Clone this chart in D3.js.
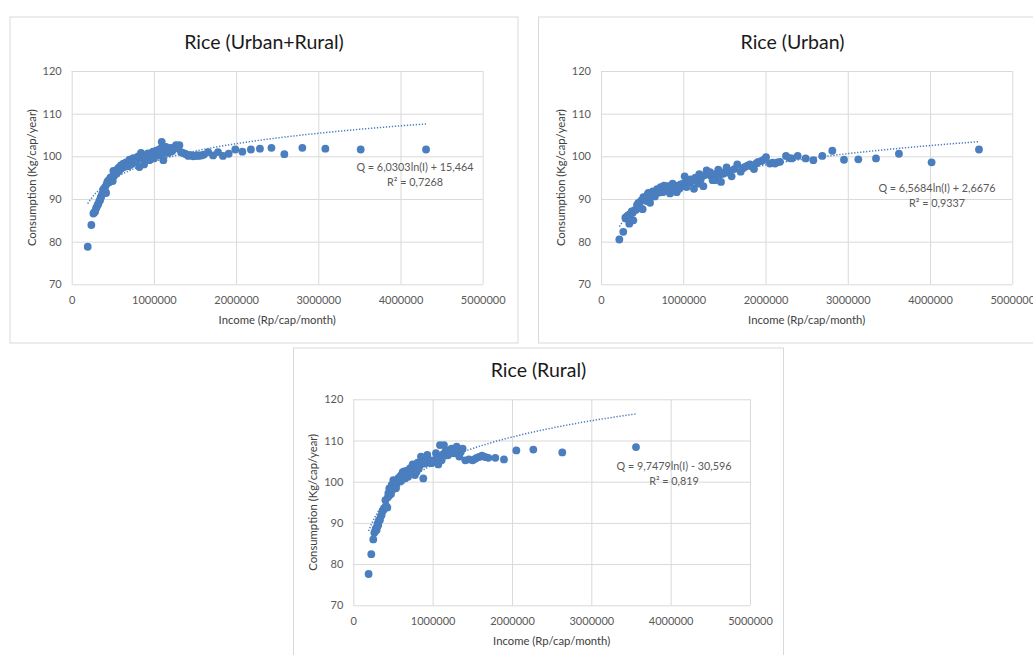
<!DOCTYPE html>
<html>
<head>
<meta charset="utf-8">
<script src="https://cdn.jsdelivr.net/npm/d3@7"></script>
<style>
    body { margin: 0; background: #fff; }
    svg { display: block; font-family: Lato, "Open Sans", sans-serif; }
</style>
</head>
<body>
<svg width="1033" height="655"></svg>
<script>
// axis ticks shared by all three charts
const incomeTicks = [0, 1000000, 2000000, 3000000, 4000000, 5000000];
const consumptionTicks = [70, 80, 90, 100, 110, 120];

// [income Rp/cap/month, consumption Kg/cap/year]
const urbanRuralPoints = [
    [195000, 78.8], [239000, 83.9], [264000, 86.6], [276000, 86.9], [284000, 87.0],
    [296000, 87.8], [304000, 88.1], [316000, 88.6], [324000, 88.9], [336000, 89.5],
    [345000, 89.7], [352000, 90.3], [357000, 90.5], [368000, 91.0], [377000, 91.4],
    [386000, 92.3], [393000, 92.0], [406000, 92.8], [412000, 91.6], [418000, 91.4],
    [425000, 93.5], [434000, 94.0], [445000, 94.3], [456000, 93.9], [466000, 94.8],
    [478000, 95.1], [488000, 94.5], [499000, 94.2], [507000, 96.6], [515000, 95.4],
    [527000, 95.9], [538000, 96.7], [546000, 96.0], [556000, 96.3], [568000, 97.3],
    [578000, 96.6], [588000, 97.1], [598000, 97.9], [607000, 97.2], [616000, 97.8],
    [628000, 98.3], [638000, 97.5], [649000, 98.1], [662000, 98.6], [675000, 97.9],
    [690000, 97.7], [703000, 99.2], [718000, 98.7], [733000, 98.2], [750000, 99.6],
    [764000, 99.4], [778000, 98.6], [791000, 99.1], [808000, 100.0], [823000, 97.5],
    [843000, 100.8], [855000, 99.5], [868000, 100.3], [880000, 98.1], [895000, 99.4],
    [912000, 99.8], [928000, 100.7], [945000, 99.1], [960000, 100.1], [973000, 100.5],
    [988000, 101.1], [1000000, 99.5], [1018000, 100.3], [1034000, 101.4], [1050000, 100.9],
    [1066000, 100.2], [1080000, 101.8], [1095000, 103.4], [1115000, 99.1], [1130000, 100.8],
    [1148000, 102.2], [1162000, 101.7], [1176000, 100.8], [1190000, 101.3], [1204000, 102.0],
    [1220000, 101.2], [1237000, 101.6], [1253000, 102.1], [1269000, 102.6], [1290000, 101.9],
    [1310000, 102.6], [1330000, 101.0], [1350000, 100.8], [1379000, 100.6], [1400000, 100.4],
    [1419000, 100.1], [1440000, 100.3], [1460000, 100.2], [1480000, 100.0], [1500000, 100.1],
    [1520000, 100.3], [1540000, 100.1], [1560000, 100.2], [1580000, 100.2], [1610000, 100.4],
    [1660000, 101.0], [1720000, 100.2], [1780000, 101.0], [1840000, 100.1], [1910000, 100.6],
    [1990000, 101.6], [2076000, 101.1], [2180000, 101.6], [2290000, 101.8], [2430000, 102.0],
    [2587000, 100.5], [2806000, 102.0], [3086000, 101.8], [3516000, 101.6], [4311000, 101.6]
];

const urbanPoints = [
    [223000, 80.5], [271000, 82.3], [296000, 85.6], [304000, 85.4], [318000, 86.0],
    [332000, 86.2], [344000, 84.2], [356000, 86.5], [373000, 87.1], [385000, 86.8],
    [393000, 85.0], [405000, 87.3], [425000, 87.5], [438000, 88.6], [454000, 89.1],
    [462000, 87.9], [474000, 88.1], [488000, 89.6], [506000, 87.6], [515000, 90.4],
    [523000, 90.1], [540000, 89.8], [555000, 89.5], [565000, 91.0], [575000, 91.4],
    [585000, 90.3], [596000, 89.1], [606000, 90.8], [616000, 90.5], [630000, 91.8],
    [644000, 91.3], [655000, 90.6], [668000, 91.6], [682000, 92.3], [697000, 92.2],
    [710000, 91.5], [725000, 92.8], [738000, 92.0], [750000, 91.6], [765000, 93.1],
    [778000, 92.4], [792000, 91.9], [806000, 93.0], [822000, 92.6], [839000, 91.3],
    [855000, 93.2], [871000, 93.6], [885000, 92.3], [900000, 92.8], [920000, 91.6],
    [936000, 93.1], [952000, 92.4], [968000, 93.4], [981000, 93.0], [1000000, 93.6],
    [1017000, 95.3], [1030000, 93.9], [1041000, 92.8], [1058000, 94.1], [1074000, 93.8],
    [1090000, 94.6], [1106000, 94.2], [1130000, 92.4], [1148000, 95.0], [1163000, 94.8],
    [1180000, 93.6], [1195000, 95.8], [1210000, 94.5], [1224000, 95.2], [1244000, 93.0],
    [1265000, 95.6], [1284000, 96.7], [1305000, 96.0], [1325000, 96.3], [1340000, 95.4],
    [1357000, 94.4], [1386000, 94.4], [1405000, 96.0], [1426000, 96.9], [1440000, 95.6],
    [1459000, 94.0], [1487000, 95.9], [1510000, 96.4], [1527000, 97.4], [1545000, 96.2],
    [1560000, 96.6], [1588000, 95.3], [1620000, 97.0], [1657000, 98.1], [1698000, 96.4],
    [1725000, 97.2], [1750000, 97.5], [1780000, 97.8], [1811000, 98.1], [1835000, 97.6],
    [1860000, 97.0], [1890000, 98.4], [1912000, 98.7], [1953000, 98.9], [1980000, 99.2],
    [2006000, 99.8], [2054000, 98.3], [2085000, 98.5], [2115000, 98.3], [2145000, 98.6],
    [2176000, 98.7], [2249000, 100.1], [2290000, 99.6], [2318000, 99.5], [2391000, 100.1],
    [2488000, 99.5], [2581000, 99.1], [2690000, 100.1], [2812000, 101.3], [2954000, 99.2],
    [3128000, 99.3], [3343000, 99.5], [3622000, 100.6], [4019000, 98.6], [4595000, 101.6]
];

const ruralPoints = [
    [193000, 77.6], [227000, 82.4], [252000, 86.0], [265000, 87.6], [273000, 87.9],
    [282000, 88.6], [294000, 88.3], [300000, 89.0], [306000, 89.8], [315000, 89.5],
    [322000, 90.6], [336000, 90.7], [345000, 91.6], [357000, 91.9], [366000, 92.8],
    [378000, 93.1], [388000, 93.6], [399000, 93.7], [405000, 95.5], [418000, 94.0],
    [429000, 93.7], [435000, 96.2], [442000, 97.2], [448000, 96.6], [454000, 98.4],
    [462000, 97.5], [470000, 98.0], [476000, 97.0], [483000, 99.2], [490000, 98.8],
    [496000, 98.1], [504000, 100.4], [512000, 99.5], [520000, 99.8], [530000, 100.2],
    [538000, 98.4], [548000, 99.7], [555000, 100.0], [565000, 100.8], [575000, 100.6],
    [588000, 101.2], [596000, 100.1], [605000, 101.6], [615000, 100.9], [622000, 102.3],
    [632000, 101.6], [642000, 102.5], [651000, 100.8], [660000, 101.5], [670000, 102.6],
    [681000, 102.0], [690000, 101.2], [700000, 102.8], [714000, 103.2], [725000, 102.4],
    [738000, 103.5], [748000, 104.2], [760000, 103.6], [777000, 101.6], [788000, 103.8],
    [798000, 102.4], [810000, 104.6], [825000, 103.2], [840000, 104.0], [853000, 106.1],
    [865000, 104.4], [882000, 100.8], [893000, 104.8], [903000, 104.4], [918000, 105.2],
    [933000, 106.5], [950000, 104.7], [966000, 105.2], [985000, 104.5], [1008000, 105.2],
    [1025000, 104.8], [1042000, 106.9], [1058000, 105.8], [1071000, 104.2], [1092000, 108.9],
    [1102000, 106.2], [1113000, 105.2], [1128000, 106.6], [1143000, 108.9], [1160000, 107.3],
    [1176000, 107.5], [1192000, 106.4], [1210000, 106.9], [1224000, 107.8], [1239000, 108.0],
    [1254000, 107.2], [1269000, 106.9], [1285000, 107.6], [1303000, 108.5], [1320000, 107.4],
    [1336000, 106.1], [1355000, 107.2], [1378000, 108.0], [1412000, 105.2], [1458000, 105.4],
    [1504000, 105.2], [1530000, 105.5], [1555000, 105.8], [1585000, 106.0], [1622000, 106.3],
    [1660000, 106.0], [1702000, 105.8], [1790000, 105.8], [1899000, 105.4], [2055000, 107.6],
    [2269000, 107.8], [2634000, 107.1], [3563000, 108.4]
];

// log trendlines as printed on the charts: Q = a ln(I) + b
const urbanRuralFit = { a: 6.0303, b: 15.464, label: "Q = 6,0303ln(I) + 15,464", r2: "R² = 0,7268" };
const urbanFit = { a: 6.5684, b: 2.6676, label: "Q = 6,5684ln(I) + 2,6676", r2: "R² = 0,9337" };
const ruralFit = { a: 9.7479, b: -30.596, label: "Q = 9,7479ln(I) - 30,596", r2: "R² = 0,819" };

const MARKER = "#4a7ebe";
const GRID = "#d9d9d9";

const svg = d3.select("svg");

function drawPanel(p) {
    const g = svg.append("g");

    g.append("rect")
        .attr("x", p.frame[0]).attr("y", p.frame[1])
        .attr("width", p.frame[2]).attr("height", p.frame[3])
        .attr("fill", "#fff")
        .attr("stroke", GRID)
        .attr("stroke-width", 1);

    g.append("text")
        .attr("x", p.frame[0] + p.frame[2] / 2)
        .attr("y", p.top - 22)
        .attr("text-anchor", "middle")
        .attr("font-size", 19.5)
        .attr("fill", "#1a1a1a")
        .text(p.title);

    const x = d3.scaleLinear().domain([0, 5000000]).range([p.left, p.left + p.w]);
    const y = d3.scaleLinear().domain([70, 120]).range([p.top + p.h, p.top]);

    const xAxis = g.append("g")
        .attr("transform", `translate(0,${p.top + p.h})`)
        .call(d3.axisBottom(x).tickValues(incomeTicks).tickSize(-p.h).tickPadding(12).tickFormat(d3.format("d")));
    const yAxis = g.append("g")
        .attr("transform", `translate(${p.left},0)`)
        .call(d3.axisLeft(y).tickValues(consumptionTicks).tickSize(-p.w).tickPadding(10));

    [xAxis, yAxis].forEach(a => {
        a.select(".domain").remove();
        a.selectAll("line").attr("stroke", GRID);
        a.selectAll("text")
            .attr("fill", "#595959")
            .attr("font-size", 11)
            .attr("font-family", "Lato, sans-serif");
    });

    g.append("text")
        .attr("x", p.left + p.w / 2)
        .attr("y", p.top + p.h + 40)
        .attr("text-anchor", "middle")
        .attr("font-size", 11.3)
        .attr("fill", "#404040")
        .text("Income (Rp/cap/month)");

    g.append("text")
        .attr("transform", `translate(${p.left - 36},${p.top + p.h / 2}) rotate(-90)`)
        .attr("text-anchor", "middle")
        .attr("font-size", 11.3)
        .attr("fill", "#404040")
        .text("Consumption (Kg/cap/year)");

    // trendline, drawn from the smallest to the largest income in the data
    const [xmin, xmax] = d3.extent(p.points, d => d[0]);
    const fitPts = d3.range(0, 121).map(i => {
        const inc = xmin + (xmax - xmin) * i / 120;
        return [inc, p.fit.a * Math.log(inc) + p.fit.b];
    });

    g.append("g").selectAll("circle")
        .data(p.points)
        .enter().append("circle")
        .attr("cx", d => x(d[0]))
        .attr("cy", d => y(d[1]))
        .attr("r", 3.9)
        .attr("fill", MARKER);

    g.append("path")
        .datum(fitPts)
        .attr("d", d3.line().x(d => x(d[0])).y(d => y(d[1])))
        .attr("fill", "none")
        .attr("stroke", MARKER)
        .attr("stroke-width", 1.5)
        .attr("stroke-dasharray", "1.3 1.7");

    const eq = g.append("text")
        .attr("text-anchor", "middle")
        .attr("font-size", 10.8)
        .attr("fill", "#595959");
    eq.append("tspan").attr("x", p.eq[0]).attr("y", p.eq[1] + 4).text(p.fit.label);
    eq.append("tspan").attr("x", p.eq[0]).attr("y", p.eq[1] + 19).text(p.fit.r2);
}

drawPanel({
    title: "Rice (Urban+Rural)", points: urbanRuralPoints, fit: urbanRuralFit,
    frame: [10, 17, 508, 326], left: 71.7, top: 71, w: 411, h: 213.3, eq: [415, 167]
});
drawPanel({
    title: "Rice (Urban)", points: urbanPoints, fit: urbanFit,
    frame: [538.5, 17, 508, 326], left: 601, top: 71, w: 411.3, h: 213.3, eq: [937, 188]
});
drawPanel({
    title: "Rice (Rural)", points: ruralPoints, fit: ruralFit,
    frame: [293.5, 348, 490, 330], left: 353.3, top: 399.3, w: 396.7, h: 206, eq: [674, 466]
});
</script>
</body>
</html>
